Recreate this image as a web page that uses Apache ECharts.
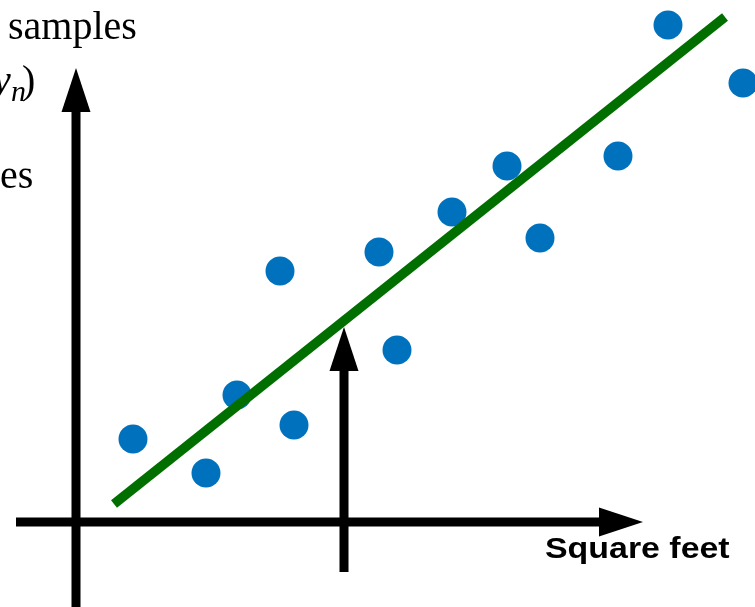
<!DOCTYPE html>
<html>
<head>
<meta charset="utf-8">
<title>Linear regression: price vs. square feet</title>
<script src="https://cdn.jsdelivr.net/npm/echarts@6/dist/echarts.min.js"></script>
<style>
  html, body { margin: 0; padding: 0; background: #fff; }
  #chart { width: 755px; height: 607px; }
</style>
</head>
<body>
<div id="chart"></div>
<script>
// Training samples (square feet, price) in plot units, origin at the axes crossing
const sqft  = [57, 130, 161, 204, 218, 303, 321, 376, 431, 464, 542, 592, 667];
const price = [83, 49, 127, 251, 97, 270, 172, 310, 356, 284, 366, 497, 439];

// Fitted regression line, two end points
const fitX = [38, 649];
const fitY = [18, 505];

// Arrows: [fromX, fromY, toX, toY]
const axisArrows = [
  [-60, 0, 567, 0],     // horizontal axis
  [0, -85, 0, 454],     // vertical axis
  [268, -50, 268, 195]  // query: new house size -> predicted price
];

const xLabel = 'Square feet';

const samples = sqft.map((x, i) => [x, price[i]]);
const fitLine = fitX.map((x, i) => [x, fitY[i]]);

const chart = echarts.init(document.getElementById('chart'), null, { renderer: 'canvas' });

function renderArrow(params, api) {
  const p1 = api.coord([api.value(0), api.value(1)]);
  const p2 = api.coord([api.value(2), api.value(3)]);
  const dx = p2[0] - p1[0], dy = p2[1] - p1[1];
  const len = Math.sqrt(dx * dx + dy * dy);
  const ux = dx / len, uy = dy / len;
  const headLen = 44, headHalf = 14.5;
  const bx = p2[0] - ux * headLen, by = p2[1] - uy * headLen;
  const px = -uy, py = ux;
  return {
    type: 'group',
    children: [
      {
        type: 'line',
        shape: { x1: p1[0], y1: p1[1], x2: bx + ux * 2, y2: by + uy * 2 },
        style: { stroke: '#000', lineWidth: 9, lineCap: 'butt' }
      },
      {
        type: 'polygon',
        shape: { points: [[p2[0], p2[1]], [bx + px * headHalf, by + py * headHalf], [bx - px * headHalf, by - py * headHalf]] },
        style: { fill: '#000' }
      }
    ]
  };
}

const serif = '"Liberation Serif", "Times New Roman", serif';

chart.setOption({
  animation: false,
  backgroundColor: '#fff',
  grid: { left: 0, right: 0, top: 0, bottom: 0 },
  xAxis: { type: 'value', min: -76, max: 679, show: false },
  yAxis: { type: 'value', min: -85, max: 522, show: false },
  series: [
    {
      type: 'scatter',
      data: samples,
      symbol: 'circle',
      symbolSize: 29,
      itemStyle: { color: '#0072bd', opacity: 1 },
      z: 2
    },
    {
      type: 'line',
      data: fitLine,
      symbol: 'none',
      lineStyle: { color: '#006f00', width: 9.5, cap: 'butt' },
      z: 3
    },
    {
      type: 'custom',
      data: axisArrows,
      renderItem: renderArrow,
      z: 4
    }
  ],
  graphic: [
    {
      type: 'text', x: 8, y: 8,
      style: { text: 'samples', font: '40px ' + serif, fill: '#000' }
    },
    {
      type: 'text', x: -7, y: 62,
      style: { text: 'y', font: 'italic 40px ' + serif, fill: '#000' }
    },
    {
      type: 'text', x: 11, y: 78,
      style: { text: 'n', font: 'italic 30px ' + serif, fill: '#000' }
    },
    {
      type: 'text', x: 22, y: 62,
      style: { text: ')', font: '40px ' + serif, fill: '#000' }
    },
    {
      type: 'text', x: 0, y: 157,
      style: { text: 'es', font: '40px ' + serif, fill: '#000' }
    },
    {
      type: 'text', x: 545, y: 535, scaleX: 1.13,
      style: { text: xLabel, font: 'bold 30px "Liberation Sans", Arial, sans-serif', fill: '#000' }
    }
  ]
});
</script>
</body>
</html>
